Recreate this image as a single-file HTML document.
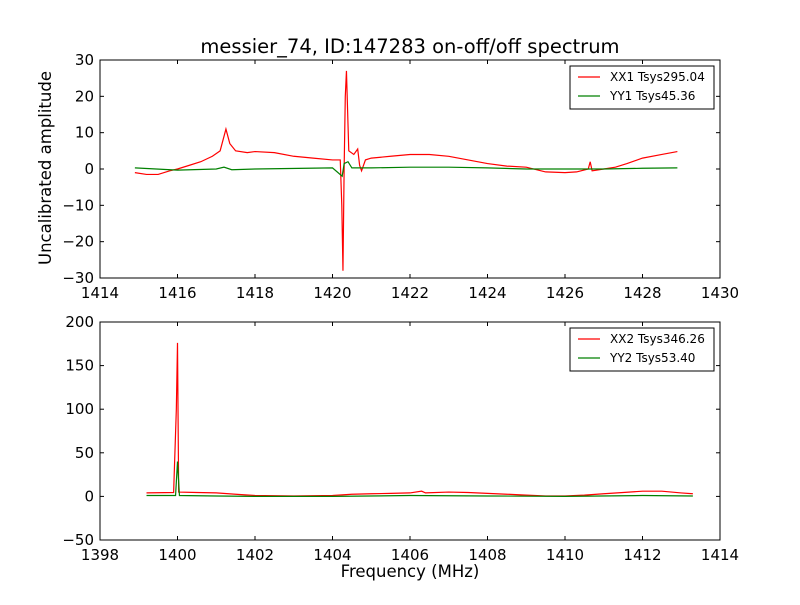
<!DOCTYPE html>
<html><head><meta charset="utf-8"><style>
body{margin:0;background:#fff;}
svg text{font-family:"DejaVu Sans","Liberation Sans",sans-serif;fill:#000;}
</style></head><body>
<svg id="c" width="800" height="600" xmlns="http://www.w3.org/2000/svg">
<rect width="800" height="600" fill="#fff"/>
<text x="410" y="53" font-size="19.5" text-anchor="middle">messier_74, ID:147283 on-off/off spectrum</text>
<text x="51" y="168" font-size="16.5" text-anchor="middle" transform="rotate(-90 51 168)">Uncalibrated amplitude</text>
<text x="410" y="577" font-size="16.5" text-anchor="middle">Frequency (MHz)</text>
<g id="g1"></g><g id="g2"></g>
</svg>
<script>
const xx1F=[1414.9,1415.2,1415.5,1415.8,1416.0,1416.3,1416.6,1416.9,1417.1,1417.2,1417.25,1417.35,1417.5,1417.8,1418,1418.5,1419,1419.5,1420,1420.2,1420.24,1420.27,1420.3,1420.33,1420.36,1420.42,1420.55,1420.65,1420.7,1420.75,1420.85,1421,1421.5,1422,1422.5,1423,1423.5,1424,1424.5,1425,1425.5,1426,1426.3,1426.6,1426.65,1426.7,1427,1427.3,1427.6,1428,1428.5,1428.9];
const xx1V=[-1,-1.5,-1.5,-0.5,0,1,2,3.5,5,9,11,7,5,4.5,4.8,4.5,3.5,3,2.5,2.5,-10,-28,0,20,27,5,4,5.5,1,-0.5,2.5,3,3.5,4,4,3.5,2.5,1.5,0.8,0.5,-0.8,-1,-0.8,0,2,-0.5,0,0.5,1.5,3,4,4.8];
const yy1F=[1414.9,1416,1417,1417.2,1417.4,1418,1420,1420.25,1420.3,1420.4,1420.5,1421,1422,1423,1424,1425,1426,1427,1428,1428.9];
const yy1V=[0.3,-0.3,0,0.5,-0.2,0,0.3,-2,1.5,2,0.3,0.3,0.5,0.5,0.3,0,0,0,0.2,0.3];
const xx2F=[1399.2,1399.9,1399.97,1400.0,1400.03,1400.5,1401,1401.5,1402,1403,1404,1404.5,1405,1405.5,1406,1406.3,1406.4,1407,1407.5,1408,1408.5,1409,1409.5,1410,1410.5,1411,1411.5,1412,1412.5,1413,1413.3];
const xx2V=[4,4.5,100,176,5,4.5,4,2.5,1,0.5,1,2.5,3,3.5,4,6,4,5,4.5,3.5,2.5,1.5,0.5,0.5,1.5,3,4.5,6,6,4,3];
const yy2F=[1399.2,1399.95,1400,1400.05,1401,1402,1404,1406,1408,1410,1412,1413.3];
const yy2V=[1,1,40,1,0.5,0,0,1,0.5,0,1,0.5];
const ticks1X=[1414,1416,1418,1420,1422,1424,1426,1428,1430];
const ticks1Y=[-30,-20,-10,0,10,20,30];
const ticks2X=[1398,1400,1402,1404,1406,1408,1410,1412,1414];
const ticks2Y=[-50,0,50,100,150,200];
const NS="http://www.w3.org/2000/svg";
function mk(g,t,a){const e=document.createElementNS(NS,t);for(const k in a)e.setAttribute(k,a[k]);g.appendChild(e);return e;}
function panel(gid,top,x0,x1,y0,y1,tx,ty,series,legend,pfx){
 const g=document.getElementById(gid);const L=100,R=720,T=top,B=top+218;
 const sx=v=>L+(v-x0)/(x1-x0)*(R-L), sy=v=>B-(v-y0)/(y1-y0)*(B-T);
 series.forEach(s=>{
  const p=mk(g,'polyline',{points:s.f.map((f,i)=>sx(f)+','+sy(s.v[i])).join(' '),fill:'none',stroke:s.c,'stroke-width':1.2});
  
  
 });
 const fr=mk(g,'rect',{x:L,y:T,width:R-L,height:B-T,fill:'none',stroke:'#000','stroke-width':1});
 
 
 tx.forEach(v=>{const x=sx(v);
  mk(g,'line',{x1:x,x2:x,y1:B,y2:B-4,stroke:'#000'});mk(g,'line',{x1:x,x2:x,y1:T,y2:T+4,stroke:'#000'});
  const t=mk(g,'text',{x:x,y:B+20,'font-size':15,'text-anchor':'middle'});t.textContent=v;
  
  });
 ty.forEach(v=>{const y=sy(v);
  mk(g,'line',{x1:L,x2:L+4,y1:y,y2:y,stroke:'#000'});mk(g,'line',{x1:R,x2:R-4,y1:y,y2:y,stroke:'#000'});
  const t=mk(g,'text',{x:L-6,y:y+5,'font-size':15,'text-anchor':'end'});t.textContent=(v<0?'\u2212'+(-v):v);
  
  });
 const lg=mk(g,'g',{});
 
 
 mk(lg,'rect',{x:570,y:T+6,width:144,height:43,fill:'#fff',stroke:'#000'});
 legend.forEach((l,i)=>{const y=T+17+i*19;
  mk(lg,'line',{x1:578,x2:600,y1:y,y2:y,stroke:series[i].c,'stroke-width':1.2});
  const t=mk(lg,'text',{x:610,y:y+4,'font-size':12});t.textContent=l;
  
  });
}
panel('g1',60,1414,1430,-30,30,ticks1X,ticks1Y,[{f:xx1F,v:xx1V,c:'#f00',n:'xx1'},{f:yy1F,v:yy1V,c:'#008000',n:'yy1'}],['XX1 Tsys295.04','YY1 Tsys45.36'],'top');
panel('g2',322,1398,1414,-50,200,ticks2X,ticks2Y,[{f:xx2F,v:xx2V,c:'#f00',n:'xx2'},{f:yy2F,v:yy2V,c:'#008000',n:'yy2'}],['XX2 Tsys346.26','YY2 Tsys53.40'],'bottom');
</script>
</body></html>
